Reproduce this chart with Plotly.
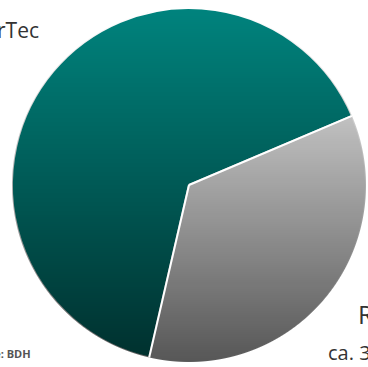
import base64
import math
import struct
import zlib

import numpy as np
import plotly.graph_objects as go

labels = ["R", "rTec"]
values = [35, 65]
colors = ["rgb(240,240,240)", "rgb(0,132,126)"]  # colours at the top of the gradient
rotation = 67

W, H = 368, 367
cx, cy, r = 189, 185, 177  # pixel center and radius of the pie


def png_data_uri(rgba):
    h, w, _ = rgba.shape
    raw = b"".join(b"\x00" + rgba[i].tobytes() for i in range(h))
    def chunk(tag, data):
        c = struct.pack(">I", len(data)) + tag + data
        return c + struct.pack(">I", zlib.crc32(tag + data) & 0xFFFFFFFF)
    png = b"\x89PNG\r\n\x1a\n"
    png += chunk(b"IHDR", struct.pack(">IIBBBBB", w, h, 8, 6, 0, 0, 0))
    png += chunk(b"IDAT", zlib.compress(raw, 9))
    png += chunk(b"IEND", b"")
    return "data:image/png;base64," + base64.b64encode(png).decode()


# vertical shading overlay (darkens towards the bottom), masked to the pie disc
yy, xx = np.mgrid[0:H, 0:W].astype(float) + 0.5
d = np.hypot(xx - cx, yy - cy)
mask = np.clip(r + 0.5 - d, 0, 1)
shade = np.clip(0.64 * (yy - (cy - r)) / (2 * r), 0, 1)
alpha = (mask * shade * 255).round().astype(np.uint8)
img = np.zeros((H, W, 4), dtype=np.uint8)
img[..., 3] = alpha

fig = go.Figure(go.Pie(
    labels=labels,
    values=values,
    sort=False,
    direction="clockwise",
    rotation=rotation,
    marker=dict(colors=colors, line=dict(color="white", width=2)),
    textinfo="none",
    hoverinfo="label+percent",
    showlegend=False,
    domain=dict(x=[(cx - r) / W, (cx + r) / W], y=[(H - cy - r) / H, (H - cy + r) / H]),
))

# white slice separators redrawn above the shading
shapes = []
total = sum(values)
acc = 0.0
for v in values:
    ang = math.radians(rotation + 360.0 * acc / total)
    x1 = cx + r * math.sin(ang)
    y1 = cy - r * math.cos(ang)
    shapes.append(dict(type="line", xref="paper", yref="paper",
                       x0=cx / W, y0=1 - cy / H, x1=x1 / W, y1=1 - y1 / H,
                       line=dict(color="white", width=2), layer="above"))
    acc += v

font = "Open Sans, Noto Sans, sans-serif"
ann = [
    dict(text="rTec", x=41 / W, y=1 - 30 / H, xanchor="right", yanchor="middle", size=21),
    dict(text=labels[0], x=356 / W, y=1 - 314 / H, xanchor="left", yanchor="middle", size=25),
    dict(text="ca. %d %%" % values[0], x=326 / W, y=1 - 352 / H, xanchor="left", yanchor="middle", size=20),
    dict(text="<b>Quelle: BDH</b>", x=33 / W, y=1 - 353 / H, xanchor="right", yanchor="middle", size=11, color="#555555"),
]
annotations = []
for a in ann:
    annotations.append(dict(
        text=a["text"], x=a["x"], y=a["y"], xref="paper", yref="paper",
        xanchor=a["xanchor"], yanchor=a["yanchor"], showarrow=False,
        font=dict(family=font, size=a["size"], color=a.get("color", "#333333")),
    ))

fig.update_layout(
    width=W, height=H,
    margin=dict(l=0, r=0, t=0, b=0),
    paper_bgcolor="white",
    plot_bgcolor="white",
    annotations=annotations,
    shapes=shapes,
    images=[dict(source=png_data_uri(img), xref="paper", yref="paper", x=0, y=1,
                 sizex=1, sizey=1, xanchor="left", yanchor="top",
                 sizing="stretch", layer="above")],
)
fig.write_html(
    "out.html",
    config={"displayModeBar": False},
    post_script="document.body.style.margin='0';document.body.style.overflow='hidden';",
)
